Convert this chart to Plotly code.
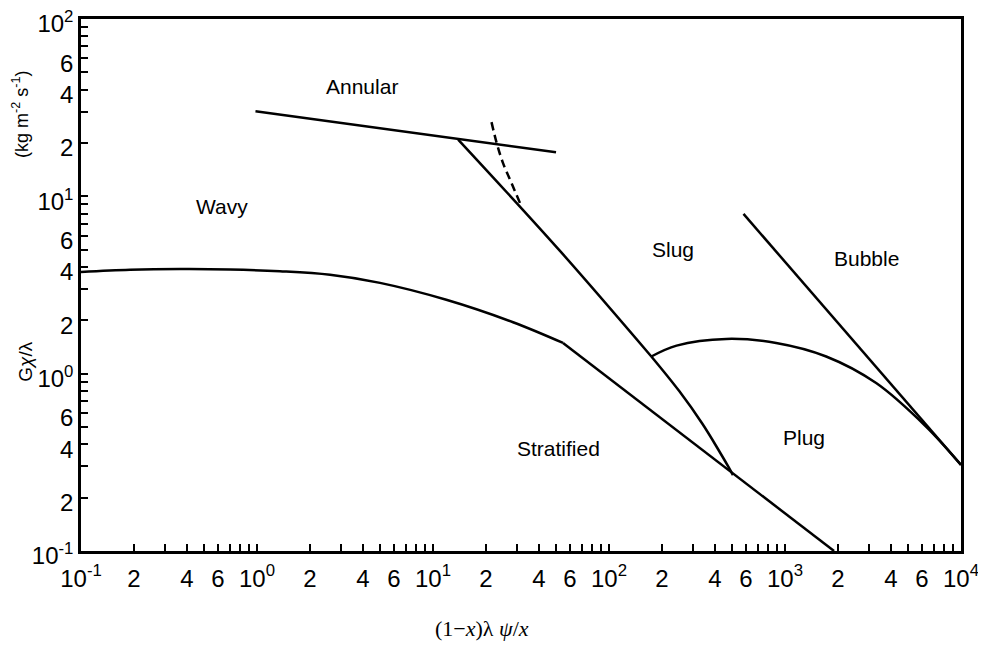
import math
import plotly.graph_objects as go

# axis ticks
x_ticks = [0.1, 0.2, 0.4, 0.6, 1, 2, 4, 6, 10, 20, 40, 60, 100, 200, 400, 600,
           1000, 2000, 4000, 6000, 10000]
x_tick_text = ['10<sup>-1</sup>', '2', '4', '6', '10<sup>0</sup>', '2', '4', '6',
               '10<sup>1</sup>', '2', '4', '6', '10<sup>2</sup>', '2', '4', '6',
               '10<sup>3</sup>', '2', '4', '6', '10<sup>4</sup>']
x_minor = [0.3, 0.5, 0.7, 0.8, 0.9, 3, 5, 7, 8, 9, 30, 50, 70, 80, 90,
           300, 500, 700, 800, 900, 3000, 5000, 7000, 8000, 9000]

y_ticks = [0.1, 0.2, 0.4, 0.6, 1, 2, 4, 6, 10, 20, 40, 60, 100]
y_tick_text = ['10<sup>-1</sup>', '2', '4', '6', '10<sup>0</sup>', '2', '4', '6',
               '10<sup>1</sup>', '2', '4', '6', '10<sup>2</sup>']
y_minor = [0.3, 0.5, 0.7, 0.8, 0.9, 3, 5, 7, 8, 9, 30, 50, 70, 80, 90]
y_decades = [0.1, 1, 10, 100]

# flow regime boundaries
annular_x = [0.98, 50]
annular_y = [30.2, 17.7]

dashed_x = [21.5, 23.0, 25.0, 27.9, 31.5]
dashed_y = [26.2, 20.0, 15.4, 11.9, 8.97]

slug_x = [13.9, 52.5, 174]
slug_y = [20.9, 4.94, 1.25]

slug_low_x = [174, 250, 340, 420, 480, 506]
slug_low_y = [1.25, 0.80, 0.52, 0.37, 0.295, 0.268]

wavy_x = [0.1, 0.19, 0.366, 0.703, 1.35, 2.6, 5.0, 11.9, 28.5, 54.8]
wavy_y = [3.74, 3.85, 3.89, 3.87, 3.78, 3.61, 3.25, 2.61, 1.95, 1.49]

strat_x = [54.8, 1900]
strat_y = [1.49, 0.1]

plug_x = [174, 242, 464, 891, 1714, 3296, 6326, 10000]
plug_y = [1.25, 1.44, 1.57, 1.49, 1.25, 0.885, 0.503, 0.306]

bubble_x = [581, 10000]
bubble_y = [7.96, 0.306]

# region names
regions = ['Annular', 'Wavy', 'Slug', 'Bubble', 'Stratified', 'Plug']
region_x = [3.95, 0.63, 230, 2904, 51.8, 1288]
region_y = [41.6, 8.75, 5.0, 4.45, 0.377, 0.435]

sans = 'Liberation Sans, Arial, Helvetica, sans-serif'
serif = 'Liberation Serif, Times New Roman, serif'

fig = go.Figure()

def add_line(xs, ys, shape='linear', dash='solid'):
    fig.add_trace(go.Scatter(
        x=xs, y=ys, mode='lines',
        line=dict(color='black', width=2.5, shape=shape, dash=dash),
        showlegend=False, hoverinfo='skip'
    ))

add_line(annular_x, annular_y)
add_line(dashed_x, dashed_y, shape='spline', dash='8px,5px')
add_line(slug_x, slug_y, shape='spline')
add_line(slug_low_x, slug_low_y, shape='spline')
add_line(wavy_x, wavy_y, shape='spline')
add_line(strat_x, strat_y)
add_line(plug_x, plug_y, shape='spline')
add_line(bubble_x, bubble_y)

# log axes take annotation positions in log10 units
for name, rx, ry in zip(regions, region_x, region_y):
    fig.add_annotation(x=math.log10(rx), y=math.log10(ry), xref='x', yref='y', text=name,
                       xanchor='center', yanchor='middle', showarrow=False,
                       font=dict(family=sans, size=21, color='black'))

# axis titles
fig.add_annotation(x=-0.068, y=0.82, xref='paper', yref='paper',
                   text='(kg m<sup>-2</sup> s<sup>-1</sup>)', textangle=-90,
                   xanchor='center', yanchor='middle', showarrow=False,
                   font=dict(family=sans, size=18, color='black'))
fig.add_annotation(x=-0.063, y=0.355, xref='paper', yref='paper',
                   text='G<i>χ</i>/λ', textangle=-90,
                   xanchor='center', yanchor='middle', showarrow=False,
                   font=dict(family=sans, size=19, color='black'))
fig.add_annotation(x=0.456, y=-0.146, xref='paper', yref='paper',
                   text='(1−<i>x</i>)λ <i>ψ</i>/<i>x</i>',
                   xanchor='center', yanchor='middle', showarrow=False,
                   font=dict(family=serif, size=22, color='black'))

axis_common = dict(
    type='log', ticks='inside', ticklen=7, tickwidth=2, tickcolor='black',
    showline=True, linewidth=2.5, linecolor='black', mirror=True,
    showgrid=False, zeroline=False, automargin=False, ticklabeloverflow='allow',
    tickfont=dict(family=sans, size=24, color='black'),
)

# page body keeps an 8px margin, so the figure is a bit smaller than the window
fig.update_layout(
    width=978, height=637,
    margin=dict(l=73, r=25, t=11, b=94),
    plot_bgcolor='white', paper_bgcolor='white',
    xaxis=dict(range=[-1, 4], tickmode='array', tickvals=x_ticks, ticktext=x_tick_text,
               ticklabelstandoff=4,
               minor=dict(tickvals=x_minor, ticks='inside', ticklen=7, tickwidth=2,
                          tickcolor='black', showgrid=False),
               **axis_common),
    yaxis=dict(range=[-1, 2], tickmode='array', tickvals=y_ticks, ticktext=y_tick_text,
               ticklabelshift=5,
               minor=dict(tickvals=y_minor, ticks='inside', ticklen=7, tickwidth=2,
                          tickcolor='black', showgrid=False),
               **axis_common),
    yaxis2=dict(type='log', range=[-1, 2], overlaying='y', anchor='x', side='left',
                tickmode='array', tickvals=y_decades, ticks='inside', ticklen=17,
                tickwidth=2, tickcolor='black', showticklabels=False,
                showline=False, showgrid=False, zeroline=False, automargin=False),
)

fig.write_html("out.html")
